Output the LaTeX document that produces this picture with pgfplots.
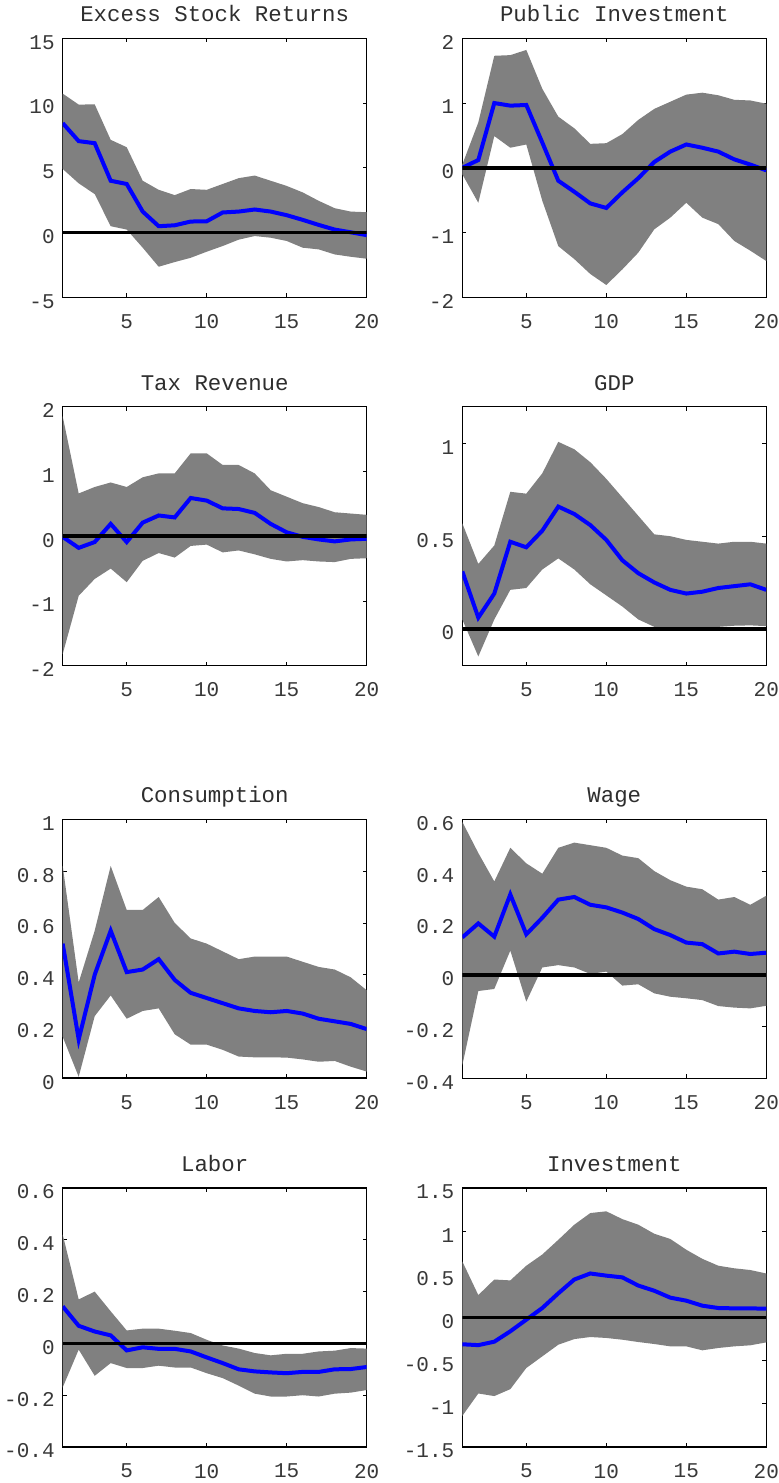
\documentclass[border=0pt]{standalone}
\usepackage{fontspec}
\setmainfont{Liberation Mono}
\usepackage{pgfplots}
\usepackage{pgfplotstable}
\pgfplotsset{compat=1.18}
\usepgfplotslibrary{fillbetween}

\pgfplotstableread{
x m u l
1 8.45 10.73 4.91
2 7.06 9.88 3.80
3 6.90 9.90 2.97
4 4.00 7.16 0.49
5 3.75 6.59 0.23
6 1.62 4.00 -1.17
7 0.49 3.30 -2.64
8 0.56 2.89 -2.28
9 0.85 3.36 -1.95
10 0.87 3.30 -1.48
11 1.55 3.75 -1.04
12 1.62 4.20 -0.55
13 1.78 4.40 -0.27
14 1.62 4.00 -0.40
15 1.34 3.60 -0.65
16 0.98 3.10 -1.17
17 0.59 2.45 -1.30
18 0.23 1.88 -1.69
19 0.02 1.62 -1.87
20 -0.20 1.57 -2.02
}\esr
\pgfplotstableread{
x m u l
1 0.00 0.05 -0.10
2 0.12 0.70 -0.54
3 1.00 1.73 0.49
4 0.96 1.74 0.31
5 0.97 1.82 0.36
6 0.39 1.22 -0.51
7 -0.20 0.79 -1.21
8 -0.37 0.61 -1.41
9 -0.55 0.37 -1.64
10 -0.62 0.38 -1.81
11 -0.38 0.52 -1.57
12 -0.16 0.74 -1.31
13 0.09 0.91 -0.95
14 0.25 1.02 -0.77
15 0.36 1.13 -0.54
16 0.31 1.16 -0.77
17 0.25 1.12 -0.87
18 0.13 1.05 -1.13
19 0.05 1.04 -1.28
20 -0.04 0.99 -1.44
}\pubinv
\pgfplotstableread{
x m u l
1 -0.01 1.85 -1.82
2 -0.18 0.66 -0.92
3 -0.09 0.76 -0.66
4 0.19 0.83 -0.50
5 -0.09 0.76 -0.71
6 0.21 0.91 -0.38
7 0.32 0.97 -0.26
8 0.29 0.97 -0.33
9 0.59 1.28 -0.15
10 0.55 1.28 -0.13
11 0.43 1.10 -0.25
12 0.42 1.10 -0.22
13 0.36 0.97 -0.28
14 0.19 0.71 -0.35
15 0.06 0.61 -0.39
16 -0.01 0.51 -0.37
17 -0.05 0.45 -0.39
18 -0.08 0.37 -0.40
19 -0.05 0.35 -0.35
20 -0.04 0.33 -0.34
}\tax
\pgfplotstableread{
x m u l
1 0.31 0.57 0.05
2 0.06 0.35 -0.15
3 0.19 0.45 0.05
4 0.47 0.74 0.21
5 0.44 0.73 0.22
6 0.53 0.84 0.32
7 0.66 1.01 0.38
8 0.62 0.97 0.32
9 0.56 0.90 0.24
10 0.48 0.81 0.18
11 0.37 0.71 0.12
12 0.30 0.61 0.05
13 0.25 0.51 0.01
14 0.21 0.50 -0.005
15 0.19 0.48 -0.005
16 0.20 0.47 0.005
17 0.22 0.46 0.01
18 0.23 0.47 0.016
19 0.24 0.47 0.018
20 0.21 0.46 0.014
}\gdp
\pgfplotstableread{
x m u l
1 0.52 0.82 0.16
2 0.15 0.37 0.006
3 0.40 0.57 0.24
4 0.57 0.82 0.32
5 0.41 0.65 0.23
6 0.42 0.65 0.26
7 0.46 0.70 0.27
8 0.38 0.60 0.17
9 0.33 0.54 0.13
10 0.31 0.52 0.13
11 0.29 0.49 0.11
12 0.27 0.46 0.084
13 0.26 0.47 0.081
14 0.255 0.47 0.081
15 0.26 0.47 0.08
16 0.25 0.45 0.073
17 0.23 0.43 0.064
18 0.22 0.42 0.067
19 0.21 0.39 0.045
20 0.19 0.34 0.026
}\cons
\pgfplotstableread{
x m u l
1 0.144 0.59 -0.35
2 0.198 0.47 -0.063
3 0.147 0.36 -0.055
4 0.31 0.49 0.093
5 0.156 0.43 -0.104
6 0.22 0.39 0.028
7 0.29 0.49 0.037
8 0.30 0.51 0.028
9 0.27 0.50 0.003
10 0.26 0.49 0.012
11 0.24 0.46 -0.042
12 0.215 0.45 -0.037
13 0.176 0.40 -0.072
14 0.153 0.365 -0.085
15 0.124 0.34 -0.091
16 0.118 0.33 -0.098
17 0.082 0.29 -0.121
18 0.089 0.30 -0.127
19 0.08 0.27 -0.13
20 0.085 0.305 -0.12
}\wage
\pgfplotstableread{
x m u l
1 0.143 0.42 -0.17
2 0.068 0.17 -0.024
3 0.046 0.20 -0.125
4 0.031 0.124 -0.076
5 -0.027 0.05 -0.095
6 -0.015 0.057 -0.095
7 -0.021 0.057 -0.086
8 -0.021 0.049 -0.093
9 -0.031 0.04 -0.093
10 -0.054 0.014 -0.115
11 -0.076 -0.008 -0.134
12 -0.10 -0.02 -0.163
13 -0.108 -0.037 -0.194
14 -0.112 -0.046 -0.205
15 -0.115 -0.04 -0.205
16 -0.11 -0.04 -0.20
17 -0.11 -0.031 -0.205
18 -0.10 -0.028 -0.194
19 -0.099 -0.018 -0.19
20 -0.091 -0.02 -0.18
}\labor
\pgfplotstableread{
x m u l
1 -0.31 0.65 -1.14
2 -0.32 0.26 -0.88
3 -0.28 0.44 -0.91
4 -0.16 0.43 -0.83
5 -0.025 0.60 -0.585
6 0.11 0.73 -0.45
7 0.28 0.90 -0.315
8 0.44 1.075 -0.25
9 0.51 1.21 -0.226
10 0.485 1.23 -0.237
11 0.465 1.14 -0.257
12 0.37 1.075 -0.284
13 0.31 0.97 -0.307
14 0.23 0.91 -0.334
15 0.195 0.785 -0.334
16 0.137 0.68 -0.38
17 0.11 0.60 -0.353
18 0.106 0.57 -0.334
19 0.106 0.55 -0.322
20 0.102 0.51 -0.288
}\inv

\definecolor{band}{RGB}{128,128,128}
\pgfplotsset{
  irf/.style={
    scale only axis, width=152pt, height=129.5pt,
    xmin=1, xmax=20, xtick={5,10,15,20},
    tick align=inside, major tick length=2pt,
    axis line style={line width=0.6pt},
    every tick/.style={black, line width=0.4pt},
    scaled y ticks=false,
    /pgf/number format/assume math mode=true,
    tick label style={font=\fontsize{10.5}{12}\selectfont, text=black!78},
    xticklabel style={yshift=-5pt},
    yticklabel style={xshift=-0.5pt, yshift=-2pt, /pgf/number format/fixed},
    every axis title/.style={font=\fontsize{11.2}{13}\selectfont, text=black!82, at={(0.5,1)}, anchor=base, yshift=8.3pt},
  },
}
\newcommand{\irfplot}[1]{%
  \addplot[name path=u, draw=none, forget plot] table[x=x, y=u] {#1};
  \addplot[name path=l, draw=none, forget plot] table[x=x, y=l] {#1};
  \addplot[fill=band, draw=none] fill between[of=u and l];
  \addplot[blue, line width=2pt] table[x=x, y=m] {#1};
  \addplot[black, line width=1.8pt] coordinates {(1,0) (20,0)};
}

\begin{document}
\begin{tikzpicture}
\begin{axis}[irf, at={(31.35pt,-19.15pt)}, anchor=north west, title={Excess Stock Returns}, ymin=-5, ymax=15, ytick={-5,0,5,10,15}]
\irfplot{\esr}
\end{axis}
\begin{axis}[irf, at={(231.15pt,-19.15pt)}, anchor=north west, title={Public Investment}, ymin=-2, ymax=2, ytick={-2,-1,0,1,2}]
\irfplot{\pubinv}
\end{axis}
\begin{axis}[irf, at={(31.35pt,-203.35pt)}, anchor=north west, title={Tax Revenue}, ymin=-2, ymax=2, ytick={-2,-1,0,1,2}]
\irfplot{\tax}
\end{axis}
\begin{axis}[irf, at={(231.15pt,-203.35pt)}, anchor=north west, title={GDP}, ymin=-0.2, ymax=1.2, ytick={0,0.5,1}]
\irfplot{\gdp}
\end{axis}
\begin{axis}[irf, at={(31.35pt,-409.65pt)}, anchor=north west, title={Consumption}, ymin=0, ymax=1, ytick={0,0.2,0.4,0.6,0.8,1}]
\irfplot{\cons}
\end{axis}
\begin{axis}[irf, at={(231.15pt,-409.65pt)}, anchor=north west, title={Wage}, ymin=-0.4, ymax=0.6, ytick={-0.4,-0.2,0,0.2,0.4,0.6}]
\irfplot{\wage}
\end{axis}
\begin{axis}[irf, at={(31.35pt,-594pt)}, anchor=north west, title={Labor}, ymin=-0.4, ymax=0.6, ytick={-0.4,-0.2,0,0.2,0.4,0.6}]
\irfplot{\labor}
\end{axis}
\begin{axis}[irf, at={(231.15pt,-594pt)}, anchor=north west, title={Investment}, ymin=-1.5, ymax=1.5, ytick={-1.5,-1,-0.5,0,0.5,1,1.5}]
\irfplot{\inv}
\end{axis}
\pgfresetboundingbox
\path[use as bounding box] (0,0) rectangle (389.5pt,-741.5pt);
\end{tikzpicture}
\end{document}
